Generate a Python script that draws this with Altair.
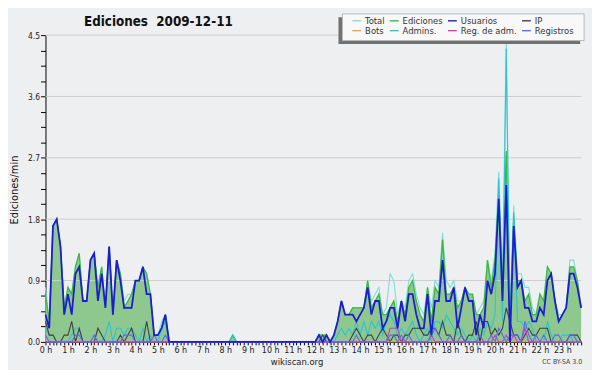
import altair as alt
import pandas as pd

# ---------------- data (values in edits/min, one value every 10 minutes) ----------------
series_names = ["Total", "Ediciones", "Usuarios", "IP", "Bots", "Admins.", "Reg. de adm.", "Registros"]
series_colors = ["#7fdcdc", "#3db83d", "#1c1cd0", "#404040", "#f0a040", "#2cc3d3", "#cc3ccc", "#6464f0"]

total = [
    0.8, 0.3, 1.7, 1.8, 1.4, 0.5,  0.8, 0.7, 1.1, 1.3, 0.6, 0.6,  1.2, 1.3, 0.8, 1.1, 0.5, 1.4,
    0.4, 1.2, 1.0, 0.6, 0.7, 0.7,  0.9, 0.9, 1.1, 1.0, 0.7, 0.1,  0.1, 0.3, 0.4, 0, 0, 0,
    0, 0, 0, 0, 0, 0,  0, 0, 0, 0, 0, 0,  0, 0, 0.1, 0, 0, 0,
    0, 0, 0, 0, 0, 0,  0, 0, 0, 0, 0, 0,  0, 0, 0, 0, 0, 0,
    0, 0.1, 0.1, 0.1, 0, 0.1,  0.3, 0.6, 0.4, 0.4, 0.5, 0.5,  0.5, 0.5, 0.9, 0.6, 0.7, 0.8,
    0.4, 0.5, 1.0, 0.9, 0.4, 0.6,  0.5, 0.9, 1.0, 0.7, 0.5, 0.4,  0.8, 0.5, 0.9, 0.8, 1.6, 0.9,
    0.8, 0.9, 0.6, 0.6, 0.8, 0.7,  0.7, 0.4, 0.5, 0.6, 1.2, 0.9,  1.3, 2.5, 1.0, 4.4, 0.5, 2.0,
    1.0, 1.0, 0.8, 0.8, 0.5, 0.4,  0.7, 0.6, 1.1, 1.0, 0.6, 0.4,  0.4, 0.5, 1.2, 1.2, 0.9, 0.5,
]
ediciones = [
    0.7, 0.3, 1.7, 1.8, 1.4, 0.5,  0.8, 0.7, 1.1, 1.3, 0.6, 0.6,  1.2, 1.3, 0.8, 1.1, 0.5, 1.4,
    0.4, 1.2, 1.0, 0.5, 0.6, 0.7,  0.9, 0.9, 1.1, 1.0, 0.7, 0.1,  0.1, 0.2, 0.4, 0, 0, 0,
    0, 0, 0, 0, 0, 0,  0, 0, 0, 0, 0, 0,  0, 0, 0.1, 0, 0, 0,
    0, 0, 0, 0, 0, 0,  0, 0, 0, 0, 0, 0,  0, 0, 0, 0, 0, 0,
    0, 0.1, 0.1, 0.1, 0, 0.1,  0.3, 0.6, 0.4, 0.4, 0.5, 0.5,  0.5, 0.5, 0.9, 0.5, 0.6, 0.7,
    0.4, 0.4, 0.5, 0.6, 0.3, 0.6,  0.4, 0.8, 0.9, 0.6, 0.4, 0.3,  0.8, 0.3, 0.8, 0.7, 1.5, 0.7,
    0.7, 0.8, 0.5, 0.6, 0.8, 0.7,  0.7, 0.4, 0.4, 0.5, 1.2, 0.8,  1.2, 2.2, 0.8, 2.8, 0.3, 1.8,
    0.9, 0.9, 0.6, 0.7, 0.4, 0.4,  0.7, 0.6, 1.1, 1.0, 0.6, 0.3,  0.4, 0.5, 1.1, 1.1, 0.9, 0.5,
]
usuarios = [
    0.4, 0.2, 1.7, 1.8, 1.4, 0.4,  0.7, 0.4, 1.0, 1.1, 0.6, 0.6,  1.2, 1.3, 0.6, 1.0, 0.5, 1.4,
    0.4, 1.2, 0.9, 0.5, 0.5, 0.5,  0.9, 0.9, 1.1, 0.7, 0.7, 0.1,  0.1, 0.2, 0.4, 0, 0, 0,
    0, 0, 0, 0, 0, 0,  0, 0, 0, 0, 0, 0,  0, 0, 0, 0, 0, 0,
    0, 0, 0, 0, 0, 0,  0, 0, 0, 0, 0, 0,  0, 0, 0, 0, 0, 0,
    0, 0.1, 0, 0.1, 0, 0.1,  0.3, 0.6, 0.4, 0.4, 0.4, 0.3,  0.4, 0.5, 0.8, 0.4, 0.6, 0.6,
    0.2, 0.3, 0.5, 0.5, 0.2, 0.6,  0.3, 0.7, 0.7, 0.4, 0.2, 0.2,  0.7, 0.1, 0.6, 0.6, 1.2, 0.6,
    0.6, 0.8, 0.2, 0.5, 0.8, 0.6,  0.6, 0.1, 0.4, 0.2, 0.9, 0.7,  1.0, 2.1, 0.6, 2.3, 0.0, 1.7,
    0.8, 0.9, 0.5, 0.5, 0.3, 0.3,  0.5, 0.4, 0.9, 1.0, 0.6, 0.3,  0.4, 0.5, 1.0, 1.0, 0.8, 0.5,
]
ip = [
    0.3, 0.1, 0.1, 0, 0, 0.1,  0.1, 0.3, 0, 0.2, 0, 0,  0, 0, 0.2, 0.1, 0, 0,
    0, 0, 0.1, 0, 0.1, 0.2,  0, 0, 0, 0.3, 0, 0,  0, 0, 0, 0, 0, 0,
    0, 0, 0, 0, 0, 0,  0, 0, 0, 0, 0, 0,  0, 0, 0, 0, 0, 0,
    0, 0, 0, 0, 0, 0,  0, 0, 0, 0, 0, 0,  0, 0, 0, 0, 0, 0,
    0, 0, 0.1, 0, 0, 0,  0, 0, 0, 0, 0.1, 0.2,  0.1, 0, 0.1, 0.1, 0, 0.1,
    0.2, 0.1, 0, 0.1, 0.1, 0,  0.1, 0.1, 0.2, 0.2, 0.2, 0.1,  0.1, 0.2, 0.2, 0.1, 0.3, 0.1,
    0.1, 0, 0.3, 0.1, 0, 0.1,  0.1, 0.3, 0, 0.3, 0.3, 0.1,  0.2, 0.1, 0.2, 0.5, 0.3, 0.1,
    0.1, 0, 0.1, 0.2, 0.1, 0.1,  0.2, 0.2, 0.2, 0, 0, 0,  0, 0, 0.1, 0.1, 0.1, 0,
]
bots = [0] * 144
admins = [
    0.2, 0.1, 0.1, 0, 0, 0,  0, 0.1, 0.2, 0.2, 0, 0,  0, 0.1, 0, 0, 0.1, 0.3,
    0, 0.2, 0.2, 0.1, 0.2, 0.2,  0.1, 0, 0.2, 0, 0.1, 0,  0, 0.2, 0.3, 0, 0, 0,
    0, 0, 0, 0, 0, 0,  0, 0, 0, 0, 0, 0,  0, 0, 0.1, 0, 0, 0,
    0, 0, 0, 0, 0, 0,  0, 0, 0, 0, 0, 0,  0, 0, 0, 0, 0, 0,
    0, 0.1, 0, 0, 0, 0,  0.1, 0.2, 0.1, 0.2, 0.1, 0.3,  0.1, 0.3, 0.1, 0.3, 0.2, 0.3,
    0.1, 0.3, 0.4, 0.3, 0.1, 0.2,  0.1, 0.2, 0.3, 0.1, 0, 0.1,  0.2, 0, 0.3, 0.3, 0.2, 0.4,
    0.3, 0.2, 0.1, 0.2, 0.1, 0,  0.1, 0, 0.2, 0.1, 0.3, 0.2,  0.4, 2.4, 0.3, 4.3, 0.2, 1.9,
    0.3, 0.3, 0.2, 0.3, 0.2, 0,  0, 0, 0.3, 0.1, 0, 0,  0.1, 0.1, 0.1, 0, 0, 0,
]
reg_adm = [
    0, 0, 0, 0, 0, 0,  0, 0, 0, 0, 0, 0,  0, 0, 0, 0, 0, 0,
    0, 0, 0, 0, 0, 0,  0, 0, 0, 0, 0, 0,  0, 0, 0, 0, 0, 0,
    0, 0, 0, 0, 0, 0,  0, 0, 0, 0, 0, 0,  0, 0, 0, 0, 0, 0,
    0, 0, 0, 0, 0, 0,  0, 0, 0, 0, 0, 0,  0, 0, 0, 0, 0, 0,
    0, 0, 0, 0, 0, 0,  0, 0, 0, 0, 0, 0,  0, 0, 0, 0, 0, 0,
    0, 0, 0.2, 0.2, 0.2, 0,  0, 0, 0, 0, 0, 0,  0, 0.1, 0, 0, 0, 0,
    0, 0, 0, 0, 0, 0,  0, 0, 0, 0, 0, 0,  0.1, 0, 0, 0.1, 0, 0.1,
    0, 0, 0.2, 0, 0, 0,  0, 0, 0, 0, 0, 0,  0, 0, 0, 0, 0, 0,
]
registros = [
    0.1, 0, 0, 0, 0, 0,  0, 0, 0.1, 0.1, 0, 0,  0, 0.1, 0, 0, 0, 0,
    0, 0, 0, 0.1, 0.1, 0.1,  0, 0, 0, 0, 0, 0.1,  0, 0, 0.1, 0, 0, 0,
    0, 0, 0, 0, 0, 0,  0, 0, 0, 0, 0, 0,  0, 0, 0, 0, 0, 0,
    0, 0, 0, 0, 0, 0,  0, 0, 0, 0, 0, 0,  0, 0, 0, 0, 0, 0,
    0, 0, 0, 0, 0, 0,  0, 0, 0, 0, 0, 0.1,  0, 0, 0, 0, 0, 0,
    0, 0, 0.1, 0.1, 0, 0.1,  0, 0.1, 0, 0, 0, 0,  0, 0.1, 0.2, 0.1, 0, 0,
    0.1, 0, 0, 0.1, 0, 0,  0, 0, 0.1, 0, 0, 0.1,  0, 0.2, 0.1, 0, 0.1, 0.1,
    0.1, 0, 0.3, 0.1, 0, 0.1,  0, 0.1, 0, 0, 0.1, 0.1,  0, 0, 0.1, 0.1, 0, 0,
]

y_ticks = [0.0, 0.225, 0.45, 0.675, 0.9, 1.125, 1.35, 1.575, 1.8, 2.025, 2.25, 2.475,
           2.7, 2.925, 3.15, 3.375, 3.6, 3.825, 4.05, 4.275, 4.5]
y_grid = [0.9, 1.8, 2.7, 3.6, 4.5]
x_ticks = list(range(144))

title_text = "Ediciones\u00a0 2009-12-11"
y_title_text = "Ediciones/min"
x_title_text = "wikiscan.org"
license_text = "CC BY-SA 3.0"

FONT = "DejaVu Sans Condensed, Liberation Sans Narrow, DejaVu Sans"
BG = "#eeeff1"

values_by_name = {
    "Total": total, "Ediciones": ediciones, "Usuarios": usuarios, "IP": ip,
    "Bots": bots, "Admins.": admins, "Reg. de adm.": reg_adm, "Registros": registros,
}


def frame(name):
    vals = values_by_name[name]
    return pd.DataFrame({"t": list(range(len(vals))), "v": vals, "serie": name})


x_enc = alt.X(
    "t:Q",
    scale=alt.Scale(domain=[0, 143], nice=False, zero=False),
    axis=alt.Axis(
        values=x_ticks,
        labelExpr="datum.value % 6 == 0 ? (datum.value / 6) + ' h' : ''",
        title=None, grid=False, tickSize=3, labelPadding=1, labelFontSize=9,
        labelOverlap=False, labelFlush=False, domainColor="#000000", tickColor="#000000",
        labelColor="#222222", labelFont=FONT,
    ),
)
y_enc = alt.Y(
    "v:Q",
    scale=alt.Scale(domain=[0, 4.5], nice=False, zero=True),
    axis=alt.Axis(
        values=y_ticks,
        labelExpr="abs(datum.value / 0.9 - round(datum.value / 0.9)) < 0.01 ? format(datum.value, '.1f') : ''",
        title=None, grid=False, tickSize=5, labelPadding=1, labelFontSize=8.5,
        labelOverlap=False, labelFlush=False, domainColor="#000000", tickColor="#000000",
        labelColor="#222222", labelFont=FONT,
    ),
)
color_enc = alt.Color(
    "serie:N",
    scale=alt.Scale(domain=series_names, range=series_colors),
    legend=alt.Legend(
        orient="none", legendX=310, legendY=-20, columns=4, direction="horizontal", title=None,
        gridAlign="each", symbolType="stroke", symbolStrokeWidth=1.4, symbolSize=80,
        labelFontSize=9.5, labelFont=FONT, labelColor="#333333", labelOffset=3,
        columnPadding=2, rowPadding=0, padding=0, symbolOffset=0,
    ),
)

area = alt.Chart(frame("Ediciones")).mark_area(color="#8fc88f", opacity=1).encode(x=x_enc, y=y_enc)

grid = alt.Chart(pd.DataFrame({"v": y_grid})).mark_rule(color="#cccccc", strokeWidth=1).encode(y=y_enc)


def line(name, width):
    return alt.Chart(frame(name)).mark_line(strokeWidth=width, interpolate="linear").encode(
        x=x_enc, y=y_enc, color=color_enc
    )


lines = [
    line("Total", 1.1),
    line("Ediciones", 1.3),
    line("Admins.", 1.1),
    line("IP", 1.1),
    line("Bots", 1.0),
    line("Reg. de adm.", 1.1),
    line("Registros", 1.1),
    line("Usuarios", 1.8),
]

one = pd.DataFrame({"k": [0]})
legend_shadow = alt.Chart(one).mark_rect(color="#707070").encode(
    x=alt.value(297), x2=alt.value(542), y=alt.value(-18), y2=alt.value(9)
)
legend_box = alt.Chart(one).mark_rect(fill="#f8f8f8", stroke="#b8b8b8", strokeWidth=1).encode(
    x=alt.value(301), x2=alt.value(546), y=alt.value(-21.5), y2=alt.value(5.5)
)

title = alt.Chart(one).mark_text(
    font=FONT, fontSize=13.5, fontWeight="bold", align="left", baseline="alphabetic", color="#111111"
).encode(x=alt.value(39), y=alt.value(-9), text=alt.value(title_text))

y_title = alt.Chart(one).mark_text(
    font="DejaVu Sans", fontSize=10, angle=270, align="center", baseline="middle", color="#111111"
).encode(x=alt.value(-31), y=alt.value(157), text=alt.value(y_title_text))

x_title = alt.Chart(one).mark_text(
    font=FONT, fontSize=9.5, align="center", baseline="alphabetic", color="#222222"
).encode(x=alt.value(255), y=alt.value(334), text=alt.value(x_title_text))

lic = alt.Chart(one).mark_text(
    font=FONT, fontSize=7, align="right", baseline="alphabetic", color="#444444"
).encode(x=alt.value(544), y=alt.value(333), text=alt.value(license_text))

chart = alt.layer(
    area, grid, *lines, legend_shadow, legend_box, title, y_title, x_title, lic
).properties(
    width=543, height=311,
    autosize=alt.AutoSizeParams(type="none"),
    padding={"left": 38, "top": 25, "right": 11, "bottom": 26},
    background=BG,
).configure_view(strokeWidth=0)

chart.save("out.html", embed_options={"renderer": "svg", "actions": False})
